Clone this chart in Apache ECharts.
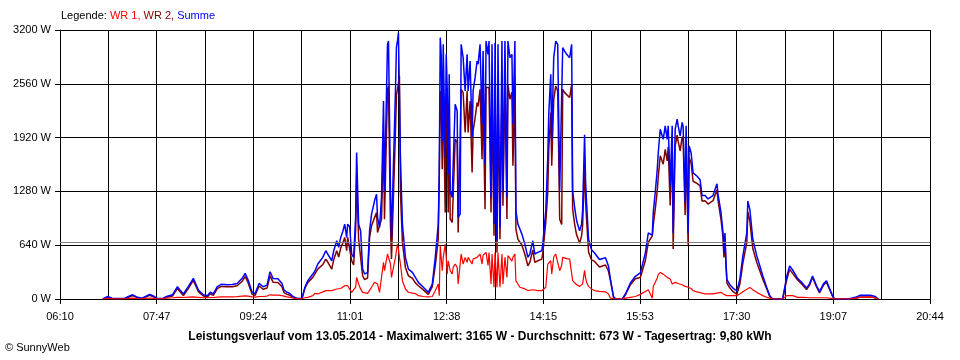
<!DOCTYPE html>
<html>
<head>
<meta charset="utf-8">
<script src="https://cdn.jsdelivr.net/npm/echarts@6/dist/echarts.min.js"></script>
<style>html,body{margin:0;padding:0;background:#fff}#c{width:960px;height:360px}</style>
</head>
<body>
<div id="c"></div>
<script>
// ---- data ----
const times = ["06:53","06:55","06:58","07:02","07:08","07:15","07:20","07:23","07:27","07:32","07:36","07:40","07:44","07:48","07:53","07:57","08:03","08:08","08:11","08:14","08:19","08:24","08:29","08:34","08:38","08:41","08:44","08:48","08:52","08:58","09:03","09:08","09:13","09:16","09:19","09:23","09:26","09:30","09:34","09:38","09:41","09:44","09:49","09:53","09:55","09:58","10:01","10:04","10:08","10:13",
"10:16","10:19","10:24","10:26","10:29","10:34","10:37","10:39","10:43","10:45","10:48","10:50","10:52","10:54","10:56","10:58","10:59","11:01","11:03","11:05","11:07","11:08","11:10","11:12","11:14","11:16","11:19","11:21","11:23","11:26","11:28","11:29","11:31","11:33","11:35","11:36","11:39","11:40","11:42","11:43","11:45","11:47","11:48","11:49","11:50","11:51","11:52","11:54","11:57","12:00","12:04","12:07","12:10","12:15","12:20","12:24","12:27","12:30","12:31",
"12:32","12:33","12:34","12:35","12:37","12:38","12:39","12:40","12:41","12:42","12:44","12:45","12:47","12:49","12:50","12:52","12:53","12:55","12:57","12:59","13:00","13:02","13:04","13:05","13:07","13:09","13:10","13:12","13:14","13:15","13:17","13:18","13:20","13:21","13:23","13:24","13:26","13:27","13:29","13:30","13:32","13:34","13:35","13:37","13:39","13:40","13:42","13:44","13:45","13:47","13:48","13:50","13:52","13:54","13:57","14:00","14:02","14:05","14:07","14:10","14:14","14:15","14:18","14:20","14:21","14:23","14:24","14:26","14:28","14:30","14:32","14:34","14:35","14:37","14:39","14:40","14:42","14:44","14:45","14:47","14:49","14:50","14:52","14:54","14:55","14:57","14:58","14:59","15:01","15:04","15:07",
"15:12","15:18","15:21","15:23","15:26","15:28","15:35","15:38","15:43","15:48","15:53","15:58","16:01","16:03","16:05","16:06","16:08","16:10","16:11","16:13","16:16","16:18","16:20","16:21","16:23","16:25","16:26","16:28","16:30","16:31","16:33","16:35","16:36","16:38","16:39","16:41","16:42","16:44","16:46","16:50","16:53","16:55","16:58","17:01","17:06","17:10","17:11","17:14","17:16","17:17","17:18","17:19","17:20","17:23","17:26","17:30","17:33","17:36","17:40","17:41","17:43","17:45","17:46","17:50","17:53","17:56","18:00","18:03","18:06","18:16",
"18:18","18:20","18:23","18:26","18:31","18:36","18:40","18:43","18:46","18:50","18:53","18:57","19:00","19:02","19:06","19:08","19:22","19:29","19:34","19:44","19:49","19:52"];

const summe = [0,20,30,10,5,10,35,50,25,8,30,55,35,5,5,30,50,146,100,60,150,246,107,50,40,80,60,146,175,170,172,185,246,305,226,80,65,185,146,165,325,245,240,185,107,80,65,30,8,5,
140,218,297,330,416,495,574,535,455,574,693,614,733,800,891,733,891,860,535,495,970,1742,891,812,356,297,317,812,1010,1168,1247,970,851,1208,2356,1287,3029,3069,1287,733,733,2475,3000,3069,3165,3148,1683,891,495,356,317,257,198,139,79,178,495,891,1485,
3109,2900,1881,3029,1683,2911,2500,1485,2673,1287,1208,1604,2317,2237,970,1010,3029,2871,2475,2911,2475,2831,1920,2475,2633,2831,2792,3029,2079,2950,1604,3069,2911,3069,1208,3029,891,3049,693,3029,851,3069,1287,3069,1208,3069,2871,2911,2079,3069,1049,891,832,772,653,495,535,693,535,554,574,653,1049,1683,2198,2673,1881,2871,3069,3029,1287,1287,2990,2950,2911,2911,2871,3029,1287,1089,931,891,812,891,1049,1955,1400,1145,710,585,547,
470,490,390,230,30,0,0,60,190,270,310,545,785,785,760,1030,1270,1540,1740,2020,1900,2060,1900,2060,1350,2060,785,2020,2140,2060,1940,2100,2050,1150,2060,785,1820,1740,1500,1460,1420,1230,1230,1190,1230,1370,1250,1030,800,550,785,450,230,170,130,95,237,513,790,1165,1066,830,711,513,395,276,138,40,0,0,
0,265,393,345,246,186,130,180,274,158,87,180,218,158,40,0,0,20,45,45,30,0];

const wr1 = [0,5,8,3,2,3,8,10,6,3,8,12,8,3,3,10,15,20,20,18,22,25,20,15,15,18,18,22,25,25,25,28,35,38,35,25,22,30,30,35,50,45,45,40,30,25,20,12,4,3,
15,20,40,67,60,85,99,95,99,105,119,115,125,139,158,158,158,150,79,90,140,257,178,120,79,67,67,80,139,200,218,178,79,257,436,337,535,535,416,257,257,495,574,653,600,495,416,218,119,80,70,65,40,30,25,30,99,178,40,
634,614,337,495,653,500,297,455,400,337,297,376,416,376,178,198,535,416,495,436,495,475,416,475,480,495,500,535,416,520,535,554,400,554,178,535,139,554,139,554,139,535,178,495,257,515,495,450,495,535,218,178,140,130,120,100,100,110,99,99,99,110,139,416,420,455,297,500,535,554,337,400,495,495,480,475,475,475,218,198,170,158,150,139,180,340,250,200,150,120,100,
90,85,60,10,5,0,0,10,20,30,55,90,110,120,10,150,200,250,290,316,296,280,257,250,237,178,190,198,190,185,178,170,165,150,145,140,138,125,99,85,75,65,60,60,60,70,75,79,60,55,50,45,40,40,40,40,60,87,115,130,138,120,110,79,60,40,20,10,0,0,
0,40,40,40,20,20,18,15,15,15,15,15,15,15,5,0,0,10,20,22,15,0];

const wr2 = [0,15,22,7,3,7,27,40,19,5,22,43,27,2,2,20,35,126,80,42,128,221,87,35,25,62,42,124,150,145,147,157,211,267,191,55,43,155,116,130,275,200,195,145,77,55,45,18,4,2,
125,198,257,263,356,410,475,440,356,469,574,499,608,661,733,575,733,710,456,405,830,1485,713,692,277,230,250,732,871,968,1029,792,772,951,1920,950,2494,2534,871,476,476,1980,2426,2416,2565,2653,1267,673,376,276,247,192,158,109,54,148,396,713,1445,
2475,2286,1544,2534,1030,2411,2203,1030,2273,950,911,1228,1901,1861,792,812,2494,2455,1980,2475,1980,2356,1504,2000,2153,2336,2292,2494,1663,2430,1069,2515,2511,2515,1030,2494,752,2495,554,2475,712,2534,1109,2574,951,2554,2376,2461,1584,2534,831,713,692,642,533,395,435,583,436,455,475,543,910,1267,1778,2218,1584,2371,2534,2475,950,887,2495,2455,2431,2436,2396,2554,1069,891,761,733,662,752,869,1615,1150,945,560,465,447,
380,405,330,220,25,0,0,50,170,240,255,455,675,665,750,880,1070,1290,1450,1704,1604,1780,1643,1810,1113,1882,595,1822,1950,1875,1762,1930,1885,1000,1915,645,1682,1615,1401,1375,1345,1165,1170,1130,1170,1300,1175,951,740,495,735,405,190,130,90,55,177,426,675,1035,928,710,601,434,335,236,118,30,0,0,
0,225,353,305,226,166,112,165,259,143,72,165,203,143,35,0,0,10,25,23,15,0];

const tickLabels = ["06:10","07:47","09:24","11:01","12:38","14:15","15:53","17:30","19:07","20:44"];
const yTicks = [0, 640, 1280, 1920, 2560, 3200];
const average = 673;
const titleText = "Leistungsverlauf vom 13.05.2014 - Maximalwert: 3165 W - Durchschnitt: 673 W - Tagesertrag: 9,80 kWh";

// ---- build ----
const START = 6*60+10, END = 20*60+44, SPAN = END - START;
function toMin(t){ const p = t.split(":"); return (+p[0])*60 + (+p[1]) - START; }
const xs = times.map(toMin);
const pairs = arr => arr.map((v,i)=>[xs[i], v]);

const FONT = '"Liberation Sans", Arial, sans-serif';
const chart = echarts.init(document.getElementById('c'), null, {renderer:'canvas'});
chart.setOption({
  animation:false,
  backgroundColor:'#fff',
  textStyle:{fontFamily:FONT},
  title:[{
    left:61, top:10, padding:0,
    text:'{k|Legende: }{a|WR 1, }{b|WR 2, }{s|Summe}',
    textStyle:{fontSize:11, fontWeight:'normal', rich:{
      k:{color:'#000',fontSize:11,fontFamily:FONT},
      a:{color:'#ff0000',fontSize:11,fontFamily:FONT},
      b:{color:'#800000',fontSize:11,fontFamily:FONT},
      s:{color:'#0000ff',fontSize:11,fontFamily:FONT}}}
  },{
    left:'center', top:331, padding:0,
    text:titleText,
    textStyle:{fontSize:12, fontWeight:'bold', color:'#000', fontFamily:FONT}
  },{
    left:5, top:342, padding:0,
    text:'© SunnyWeb',
    textStyle:{fontSize:11, fontWeight:'normal', color:'#000', fontFamily:FONT}
  }],
  grid:{left:60, right:30, top:30, bottom:61, containLabel:false},
  xAxis:[{
    type:'value', min:0, max:SPAN, interval:SPAN/18,
    axisLine:{show:false}, axisTick:{show:false}, axisLabel:{show:false},
    splitLine:{show:true, lineStyle:{color:'#000', width:1}}
  },{
    type:'value', min:0, max:SPAN, interval:SPAN/9, position:'bottom',
    axisLine:{show:true, onZero:false, lineStyle:{color:'#000', width:1}},
    axisTick:{show:true, length:5, lineStyle:{color:'#000'}},
    splitLine:{show:false},
    axisLabel:{show:true, color:'#000', fontSize:11, margin:12, fontFamily:FONT,
      formatter:v=>tickLabels[Math.round(v/(SPAN/9))] || ''}
  }],
  yAxis:{
    type:'value', min:yTicks[0], max:yTicks[yTicks.length-1], interval:yTicks[1]-yTicks[0],
    axisLine:{show:true, lineStyle:{color:'#000', width:1}},
    axisTick:{show:true, length:5, lineStyle:{color:'#000'}},
    splitLine:{show:true, lineStyle:{color:'#000', width:1}},
    axisLabel:{color:'#000', fontSize:11, margin:9, fontFamily:FONT, formatter:v=>v+' W'}
  },
  series:[{
    name:'WR 2', type:'line', xAxisIndex:0, data:pairs(wr2),
    showSymbol:false, symbol:'none', lineStyle:{color:'#800000', width:1.5}, z:3
  },{
    name:'Summe', type:'line', xAxisIndex:0, data:pairs(summe),
    showSymbol:false, symbol:'none', lineStyle:{color:'#0000ff', width:1.5}, z:4,
    markLine:{silent:true, symbol:'none', label:{show:false},
      lineStyle:{color:'#808080', type:'solid', width:1.2},
      data:[{yAxis:average}]}
  },{
    name:'WR 1', type:'line', xAxisIndex:0, data:pairs(wr1),
    showSymbol:false, symbol:'none', lineStyle:{color:'#ff0000', width:1.2}, z:5
  }]
});
</script>
</body>
</html>
